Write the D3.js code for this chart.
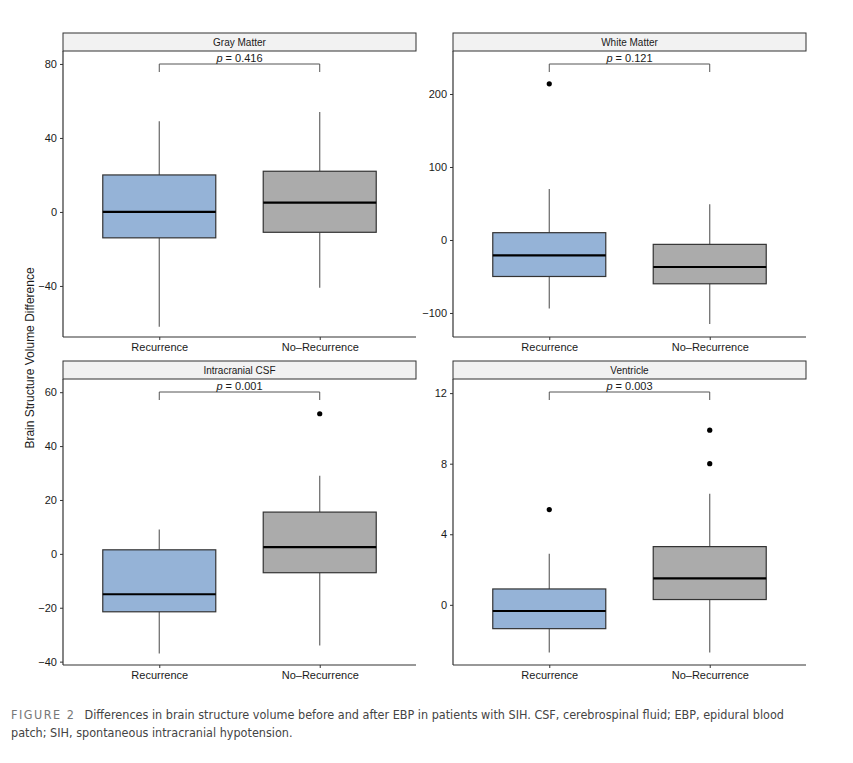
<!DOCTYPE html>
<html lang="en">
<head>
<meta charset="UTF-8">
<title>Brain structure volume difference</title>
<style>
  body { margin: 0; background: #fff; }
  text { font-family: "Liberation Sans", Arial, sans-serif; }
</style>
</head>
<body>
<svg id="chart" width="853" height="763"></svg>
<script src="https://d3js.org/d3.v7.min.js"></script>
<script>
// data
const categories = ["Recurrence", "No\u2013Recurrence"];
const panelTitles = ["Gray Matter", "White Matter", "Intracranial CSF", "Ventricle"];
const pValues = ["0.416", "0.121", "0.001", "0.003"];
const yDomains = [[-67.6, 87], [-132.9, 258.9], [-41.25, 64.9], [-3.41, 12.8]];
const yTicks = [[-40, 0, 40, 80], [-100, 0, 100, 200], [-40, -20, 0, 20, 40, 60], [0, 4, 8, 12]];
// [min, q1, median, q3, max] per category
const grayStats = [[-62, -14, 0, 20, 49], [-41, -11, 5, 22, 54]];
const whiteStats = [[-94, -50, -21, 10, 70], [-115, -60, -37, -6, 49]];
const csfStats = [[-37, -21.5, -15, 1.5, 9], [-34, -7, 2.5, 15.5, 29]];
const ventStats = [[-2.7, -1.35, -0.35, 0.9, 2.9], [-2.7, 0.3, 1.5, 3.3, 6.3]];
const grayOut = [[], []];
const whiteOut = [[214], []];
const csfOut = [[], [52]];
const ventOut = [[5.4], [8, 9.9]];

const stats = [grayStats, whiteStats, csfStats, ventStats];
const outliers = [grayOut, whiteOut, csfOut, ventOut];
const fills = ["#95b3d7", "#ababab"];

const svg = d3.select("#chart");
const panelW = 353, panelH = 286, stripH = 18;
const origins = [[63, 33], [453, 33], [63, 361], [453, 361]];

panelTitles.forEach((title, i) => {
  const [ox, oy] = origins[i];
  const g = svg.append("g").attr("transform", `translate(${ox},${oy})`);

  g.append("rect").attr("width", panelW).attr("height", stripH)
    .attr("fill", "#f2f2f2").attr("stroke", "#333").attr("stroke-width", 1);
  g.append("text").attr("x", panelW / 2).attr("y", 13).attr("text-anchor", "middle")
    .attr("font-size", 10).attr("fill", "#1a1a1a").text(title);

  const p = g.append("g").attr("transform", `translate(0,${stripH})`);
  const x = d3.scalePoint().domain(categories).range([0, panelW]).padding(0.6);
  const y = d3.scaleLinear().domain(yDomains[i]).range([panelH, 0]);
  const bw = 113;

  categories.forEach((c, j) => {
    const [mn, q1, md, q3, mx] = stats[i][j];
    const cx = x(c);
    p.append("line").attr("x1", cx).attr("x2", cx).attr("y1", y(mn)).attr("y2", y(q1))
      .attr("stroke", "#666").attr("stroke-width", 1.2);
    p.append("line").attr("x1", cx).attr("x2", cx).attr("y1", y(q3)).attr("y2", y(mx))
      .attr("stroke", "#666").attr("stroke-width", 1.2);
    p.append("rect").attr("x", cx - bw / 2).attr("width", bw)
      .attr("y", y(q3)).attr("height", y(q1) - y(q3))
      .attr("fill", fills[j]).attr("stroke", "#333").attr("stroke-width", 1.2);
    p.append("line").attr("x1", cx - bw / 2).attr("x2", cx + bw / 2)
      .attr("y1", y(md)).attr("y2", y(md)).attr("stroke", "#000").attr("stroke-width", 2.2);
    outliers[i][j].forEach(v => {
      p.append("circle").attr("cx", cx).attr("cy", y(v)).attr("r", 2.6).attr("fill", "#000");
    });
  });

  // significance bracket
  const by = 13;
  p.append("path")
    .attr("d", `M${x(categories[0])},${by + 8}V${by}H${x(categories[1])}V${by + 8}`)
    .attr("fill", "none").attr("stroke", "#555").attr("stroke-width", 1);
  const t = p.append("text").attr("x", (x(categories[0]) + x(categories[1])) / 2)
    .attr("y", by - 2).attr("text-anchor", "middle").attr("font-size", 11).attr("fill", "#1a1a1a");
  t.append("tspan").attr("font-style", "italic").text("p");
  t.append("tspan").text(" = " + pValues[i]);

  const ya = p.append("g").call(d3.axisLeft(y).tickValues(yTicks[i]).tickSize(3)
    .tickFormat(d => d < 0 ? "\u2212" + Math.abs(d) : d));
  const xa = p.append("g").attr("transform", `translate(0,${panelH})`)
    .call(d3.axisBottom(x).tickSize(3));
  [ya, xa].forEach(a => {
    a.select(".domain").attr("stroke", "#333").attr("stroke-width", 1.2);
    a.selectAll(".tick line").attr("stroke", "#333");
    a.selectAll("text").attr("font-size", 11).attr("fill", "#1a1a1a")
      .attr("font-family", "Liberation Sans, Arial, sans-serif");
  });
  ya.select(".domain").attr("d", `M0,0V${panelH}`);
  xa.select(".domain").attr("d", `M0,0H${panelW}`);
});

svg.append("text").attr("transform", "translate(34,358) rotate(-90)")
  .attr("text-anchor", "middle").attr("font-size", 12).attr("fill", "#1a1a1a")
  .text("Brain Structure Volume Difference");

const cap = svg.append("g").attr("font-size", 12.5).attr("fill", "#444");
const c1 = cap.append("text").attr("x", 11).attr("y", 719)
  .style("font-family", "'Liberation Sans Narrow', 'DejaVu Sans Condensed', sans-serif");
c1.append("tspan").attr("letter-spacing", 1.5).attr("fill", "#777").text("FIGURE 2");
c1.append("tspan").text("\u2002 Differences in brain structure volume before and after EBP in patients with SIH. CSF, cerebrospinal fluid; EBP, epidural blood");
cap.append("text").attr("x", 11).attr("y", 737)
  .style("font-family", "'Liberation Sans Narrow', 'DejaVu Sans Condensed', sans-serif")
  .text("patch; SIH, spontaneous intracranial hypotension.");
</script>
</body>
</html>
